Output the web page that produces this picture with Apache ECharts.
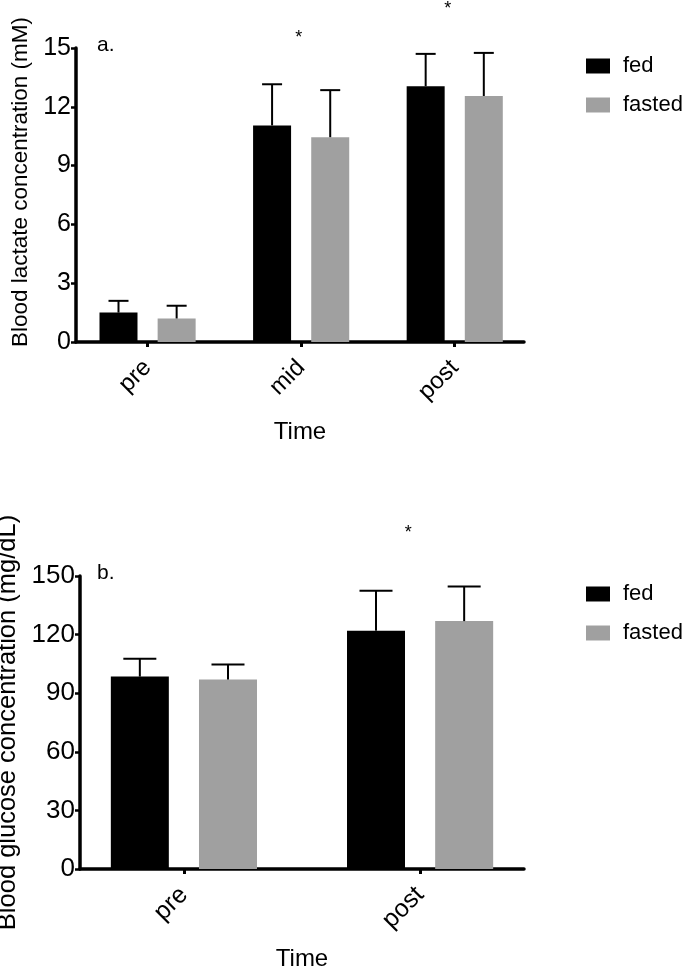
<!DOCTYPE html>
<html><head><meta charset="utf-8">
<script src="https://cdn.jsdelivr.net/npm/echarts@6/dist/echarts.min.js"></script>
<style>html,body{margin:0;padding:0;background:#fff}#c{width:682px;height:967px}</style>
</head><body><div id="c"></div>
<script>
// ---- Panel a: blood lactate (mM) ----
const lactateCategories = ['pre', 'mid', 'post'];
const lactateFed = [1.5, 11.05, 13.05];
const lactateFedSD = [0.6, 2.1, 1.65];
const lactateFasted = [1.2, 10.45, 12.55];
const lactateFastedSD = [0.65, 2.4, 2.2];
const lactateTicks = [0, 3, 6, 9, 12, 15];
const lactateSig = [[0.985, 15.5], [1.955, 17.0]];

// ---- Panel b: blood glucose (mg/dL) ----
const glucoseCategories = ['pre', 'post'];
const glucoseFed = [98.5, 122.0];
const glucoseFedSD = [9.1, 20.5];
const glucoseFasted = [97.0, 126.9];
const glucoseFastedSD = [7.7, 17.7];
const glucoseTicks = [0, 30, 60, 90, 120, 150];
const glucoseSig = [[0.95, 172]];

const groups = ['fed', 'fasted'];

const FONT = 'Liberation Sans, Arial, Helvetica, sans-serif';
const BLACK = '#000000';
const GREY = '#a0a0a0';

function errRender(offset, cap) {
  return function (params, api) {
    const x = api.value(0), m = api.value(1), sd = api.value(2);
    const p0 = api.coord([x, m]);
    const p1 = api.coord([x, m + sd]);
    const cx = p0[0] + offset;
    return {
      type: 'group', children: [
        { type: 'line', shape: { x1: cx, y1: p0[1], x2: cx, y2: p1[1] }, style: { stroke: BLACK, lineWidth: 2 } },
        { type: 'line', shape: { x1: cx - cap / 2, y1: p1[1], x2: cx + cap / 2, y2: p1[1] }, style: { stroke: BLACK, lineWidth: 2 } }
      ]
    };
  };
}
function sigRender(params, api) {
  const p = api.coord([api.value(0), api.value(1)]);
  return { type: 'text', x: p[0], y: p[1], style: { text: '*', fontSize: 18, fill: BLACK, align: 'center', verticalAlign: 'middle', fontFamily: FONT } };
}

function xAxisCfg(grid, cats, min, max, fs) {
  const idx = cats.map((c, i) => i);
  return {
    type: 'value', gridIndex: grid, min: min, max: max,
    axisLine: { show: true, onZero: false, lineStyle: { color: BLACK, width: 3.5 } },
    axisTick: { show: true, customValues: idx, length: 5, lineStyle: { color: BLACK, width: 3 } },
    axisLabel: { customValues: idx, rotate: 45, margin: 22, fontSize: fs, color: BLACK, fontFamily: FONT,
      formatter: v => cats[Math.round(v)] },
    splitLine: { show: false },
    name: 'Time', nameLocation: 'middle', nameGap: 78,
    nameTextStyle: { fontSize: 24, color: BLACK, fontFamily: FONT }
  };
}
function yAxisCfg(grid, ticks, name, fs, nfs, gap, pad) {
  return {
    type: 'value', gridIndex: grid, min: ticks[0], max: ticks[ticks.length - 1], interval: ticks[1] - ticks[0],
    axisLine: { show: true, onZero: false, lineStyle: { color: BLACK, width: 3.5 } },
    axisTick: { show: true, length: 5, lineStyle: { color: BLACK, width: 2.5 } },
    axisLabel: { margin: 5, fontSize: fs, color: BLACK, fontFamily: FONT },
    splitLine: { show: false },
    name: name, nameLocation: 'middle', nameGap: gap,
    nameTextStyle: { fontSize: nfs, color: BLACK, fontFamily: FONT, padding: pad }
  };
}
function panelSeries(grid, fed, fedSD, fasted, fastedSD, sig, barW, gapPct, cap) {
  const off = (barW + barW * gapPct / 100) / 2;
  return [
    { type: 'bar', name: groups[0], xAxisIndex: grid, yAxisIndex: grid, barWidth: barW, barGap: gapPct + '%',
      itemStyle: { color: BLACK }, data: fed.map((v, i) => [i, v]) },
    { type: 'bar', name: groups[1], xAxisIndex: grid, yAxisIndex: grid, barWidth: barW, barGap: gapPct + '%',
      itemStyle: { color: GREY }, data: fasted.map((v, i) => [i, v]) },
    { type: 'custom', xAxisIndex: grid, yAxisIndex: grid, z: 3, clip: false, renderItem: errRender(-off, cap),
      data: fed.map((v, i) => [i, v, fedSD[i]]) },
    { type: 'custom', xAxisIndex: grid, yAxisIndex: grid, z: 3, clip: false, renderItem: errRender(off, cap),
      data: fasted.map((v, i) => [i, v, fastedSD[i]]) },
    { type: 'custom', xAxisIndex: grid, yAxisIndex: grid, z: 3, clip: false, renderItem: sigRender, data: sig }
  ];
}
function legendCfg(top) {
  return {
    data: groups, orient: 'vertical', left: 586, top: top, padding: 0, icon: 'rect', itemWidth: 24, itemHeight: 15,
    itemGap: 17, selectedMode: false,
    textStyle: { fontSize: 22, color: BLACK, fontFamily: FONT, lineHeight: 22, padding: [0, 0, 0, 8] }
  };
}

const chart = echarts.init(document.getElementById('c'), null, { renderer: 'canvas' });
chart.setOption({
  backgroundColor: '#ffffff',
  animation: false,
  title: [
    { text: 'a.', left: 97, top: 35, padding: 0, textStyle: { fontSize: 21, fontWeight: 'normal', color: BLACK, fontFamily: FONT } },
    { text: 'b.', left: 97, top: 563, padding: 0, textStyle: { fontSize: 21, fontWeight: 'normal', color: BLACK, fontFamily: FONT } }
  ],
  legend: [legendCfg(55), legendCfg(583)],
  grid: [
    { left: 76, top: 48, width: 448, height: 294, outerBoundsMode: 'none', containLabel: false },
    { left: 80, top: 576, width: 444, height: 293, outerBoundsMode: 'none', containLabel: false }
  ],
  xAxis: [
    xAxisCfg(0, lactateCategories, -0.466, 2.451, 24),
    xAxisCfg(1, glucoseCategories, -0.44, 1.44, 25)
  ],
  yAxis: [
    yAxisCfg(0, lactateTicks, 'Blood lactate concentration (mM)', 25, 22.5, 42, [0, 0, 0, 26]),
    yAxisCfg(1, glucoseTicks, 'Blood glucose concentration (mg/dL)', 26, 25.5, 46, 0)
  ],
  series: [
    ...panelSeries(0, lactateFed, lactateFedSD, lactateFasted, lactateFastedSD, lactateSig, 38, 53, 20),
    ...panelSeries(1, glucoseFed, glucoseFedSD, glucoseFasted, glucoseFastedSD, glucoseSig, 58, 52, 33)
  ]
});
</script></body></html>
